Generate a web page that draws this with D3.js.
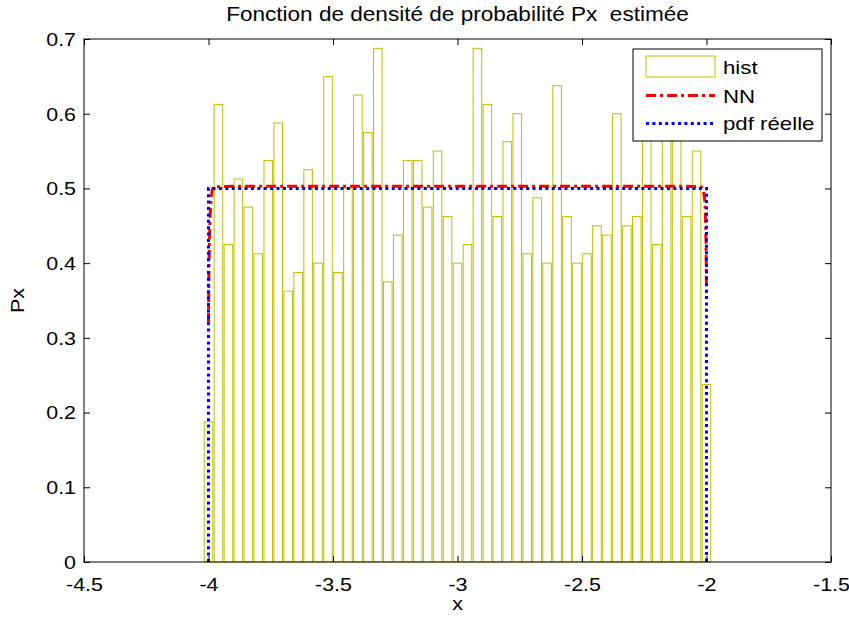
<!DOCTYPE html>
<html>
<head>
<meta charset="utf-8">
<script src="https://cdn.jsdelivr.net/npm/d3@7"></script>
<style>
    body { margin: 0; background: #fff; }
    text { font-family: "Liberation Sans", Arial, sans-serif; fill: #000; }
</style>
</head>
<body>
<svg id="chart" width="849" height="617"></svg>
<script>
// histogram bin centres and estimated density (count / (N * binWidth))
const binCenters = [-4, -3.96, -3.92, -3.88, -3.84, -3.8, -3.76, -3.72, -3.68, -3.64,
    -3.6, -3.56, -3.52, -3.48, -3.44, -3.4, -3.36, -3.32, -3.28, -3.24,
    -3.2, -3.16, -3.12, -3.08, -3.04, -3, -2.96, -2.92, -2.88, -2.84,
    -2.8, -2.76, -2.72, -2.68, -2.64, -2.6, -2.56, -2.52, -2.48, -2.44,
    -2.4, -2.36, -2.32, -2.28, -2.24, -2.2, -2.16, -2.12, -2.08, -2.04, -2];
const histDensity = [0.1875, 0.6125, 0.425, 0.5125, 0.475, 0.4125, 0.5375, 0.5875, 0.3625, 0.3875,
    0.525, 0.4, 0.65, 0.3875, 0.5, 0.625, 0.575, 0.6875, 0.375, 0.4375,
    0.5375, 0.5375, 0.475, 0.55, 0.4625, 0.4, 0.425, 0.6875, 0.6125, 0.4625,
    0.5625, 0.6, 0.4125, 0.4875, 0.4, 0.6375, 0.4625, 0.4, 0.4125, 0.45,
    0.4375, 0.6, 0.45, 0.4625, 0.575, 0.425, 0.5875, 0.575, 0.4625, 0.55, 0.2375];

// neural network estimate
const nnX = [-4, -3.998, -3.994, -3.99, -3.985, -3.98, -3.9, -3.5, -3, -2.5, -2.1, -2.02, -2.012, -2.006, -2.002, -2];
const nnY = [0.32, 0.4, 0.46, 0.485, 0.498, 0.502, 0.503, 0.503, 0.503, 0.503, 0.503, 0.502, 0.498, 0.48, 0.43, 0.36];

// true uniform pdf on [-4, -2]
const pdfX = [-4, -4, -2, -2];
const pdfY = [0, 0.5, 0.5, 0];

const xTicks = [-4.5, -4, -3.5, -3, -2.5, -2, -1.5];
const yTicks = [0, 0.1, 0.2, 0.3, 0.4, 0.5, 0.6, 0.7];
const legendLabels = ['hist', 'NN', 'pdf réelle'];

const width = 849, height = 617;
const margin = { top: 39, right: 18, bottom: 55, left: 84 };
const innerWidth = width - margin.left - margin.right;
const innerHeight = height - margin.top - margin.bottom;
const tickFont = 18.3;
const stretch = 1.17; // the original text is drawn horizontally stretched

const svg = d3.select('#chart');
const g = svg.append('g').attr('transform', `translate(${margin.left},${margin.top})`);

const xScale = d3.scaleLinear().domain([-4.5, -1.5]).range([0, innerWidth]);
const yScale = d3.scaleLinear().domain([0, 0.7]).range([innerHeight, 0]);

// widen glyphs through textLength instead of a transform
function widen(sel) {
    sel.each(function () {
        const w = this.getComputedTextLength();
        d3.select(this)
            .attr('textLength', (w * stretch).toFixed(2))
            .attr('lengthAdjust', 'spacingAndGlyphs');
    });
    return sel;
}

function addText(parent, x, y, str, anchor, size) {
    return widen(parent.append('text')
        .attr('x', x)
        .attr('y', y)
        .attr('text-anchor', anchor)
        .style('font-size', size + 'px')
        .style('white-space', 'pre')
        .text(str));
}

// plain hyphen minus, like the original
const fmt = d => String(d);

// histogram bars
const binWidth = binCenters[1] - binCenters[0];
const barHalf = binWidth * 0.43;
g.append('g').selectAll('rect')
    .data(binCenters.map((c, i) => ({ c, v: histDensity[i] })))
    .join('rect')
    .attr('x', d => xScale(d.c - barHalf))
    .attr('width', d => xScale(d.c + barHalf) - xScale(d.c - barHalf))
    .attr('y', d => yScale(d.v))
    .attr('height', d => yScale(0) - yScale(d.v))
    .attr('fill', '#fff')
    .attr('stroke', '#bfbf00')
    .attr('stroke-width', 1);

const line = d3.line().x(d => xScale(d[0])).y(d => yScale(d[1]));

g.append('path')
    .attr('d', line(nnX.map((x, i) => [x, nnY[i]])))
    .attr('fill', 'none')
    .attr('stroke', '#ff0000')
    .attr('stroke-width', 3)
    .attr('stroke-dasharray', '10,4,3,4');

g.append('path')
    .attr('d', line(pdfX.map((x, i) => [x, pdfY[i]])))
    .attr('fill', 'none')
    .attr('stroke', '#0000ff')
    .attr('stroke-width', 3)
    .attr('stroke-dasharray', '3,3.4');

// axes, ticks pointing inward on all four sides
const xAxis = g.append('g')
    .attr('transform', `translate(0,${innerHeight})`)
    .call(d3.axisBottom(xScale).tickValues(xTicks).tickSizeInner(-6).tickSizeOuter(0).tickFormat(fmt));
const yAxis = g.append('g')
    .call(d3.axisLeft(yScale).tickValues(yTicks).tickSizeInner(-6).tickSizeOuter(0).tickFormat(fmt));
g.append('g').call(d3.axisTop(xScale).tickValues(xTicks).tickSizeInner(-6).tickSizeOuter(0).tickFormat(''));
g.append('g').attr('transform', `translate(${innerWidth},0)`)
    .call(d3.axisRight(yScale).tickValues(yTicks).tickSizeInner(-6).tickSizeOuter(0).tickFormat(''));

g.selectAll('.domain').remove();
g.selectAll('.tick line').attr('stroke', '#000');

xAxis.selectAll('.tick text')
    .attr('font-family', null)
    .attr('font-size', null)
    .style('font-size', tickFont + 'px')
    .attr('y', 29).attr('dy', null)
    .call(widen);
yAxis.selectAll('.tick text')
    .attr('font-family', null)
    .attr('font-size', null)
    .style('font-size', tickFont + 'px')
    .attr('x', -8).attr('dy', '0.35em')
    .call(widen);

g.append('rect')
    .attr('width', innerWidth)
    .attr('height', innerHeight)
    .attr('fill', 'none')
    .attr('stroke', '#000')
    .attr('stroke-width', 1);

// titles
addText(svg, margin.left + innerWidth / 2, 21, 'Fonction de densité de probabilité Px  estimée', 'middle', 19.3);
addText(svg, margin.left + innerWidth / 2, 610, 'x', 'middle', tickFont);
widen(svg.append('text')
    .attr('transform', `translate(24,${margin.top + innerHeight / 2}) rotate(-90)`)
    .attr('text-anchor', 'middle')
    .style('font-size', tickFont + 'px')
    .text('Px'));

// legend
const legend = svg.append('g').attr('transform', 'translate(633,49)');
legend.append('rect')
    .attr('width', 189).attr('height', 92)
    .attr('fill', '#fff').attr('stroke', '#000').attr('stroke-width', 1);
legend.append('rect')
    .attr('x', 13).attr('y', 7).attr('width', 69).attr('height', 21)
    .attr('fill', '#fff').attr('stroke', '#bfbf00');
legend.append('line')
    .attr('x1', 13).attr('x2', 82).attr('y1', 46.5).attr('y2', 46.5)
    .attr('stroke', '#ff0000').attr('stroke-width', 3).attr('stroke-dasharray', '10,4,3,4');
legend.append('line')
    .attr('x1', 13).attr('x2', 82).attr('y1', 74.5).attr('y2', 74.5)
    .attr('stroke', '#0000ff').attr('stroke-width', 3).attr('stroke-dasharray', '3,3.4');
legendLabels.forEach((lab, i) => {
    addText(legend, 90, [25, 54, 81][i], lab, 'start', 19);
});
</script>
</body>
</html>
